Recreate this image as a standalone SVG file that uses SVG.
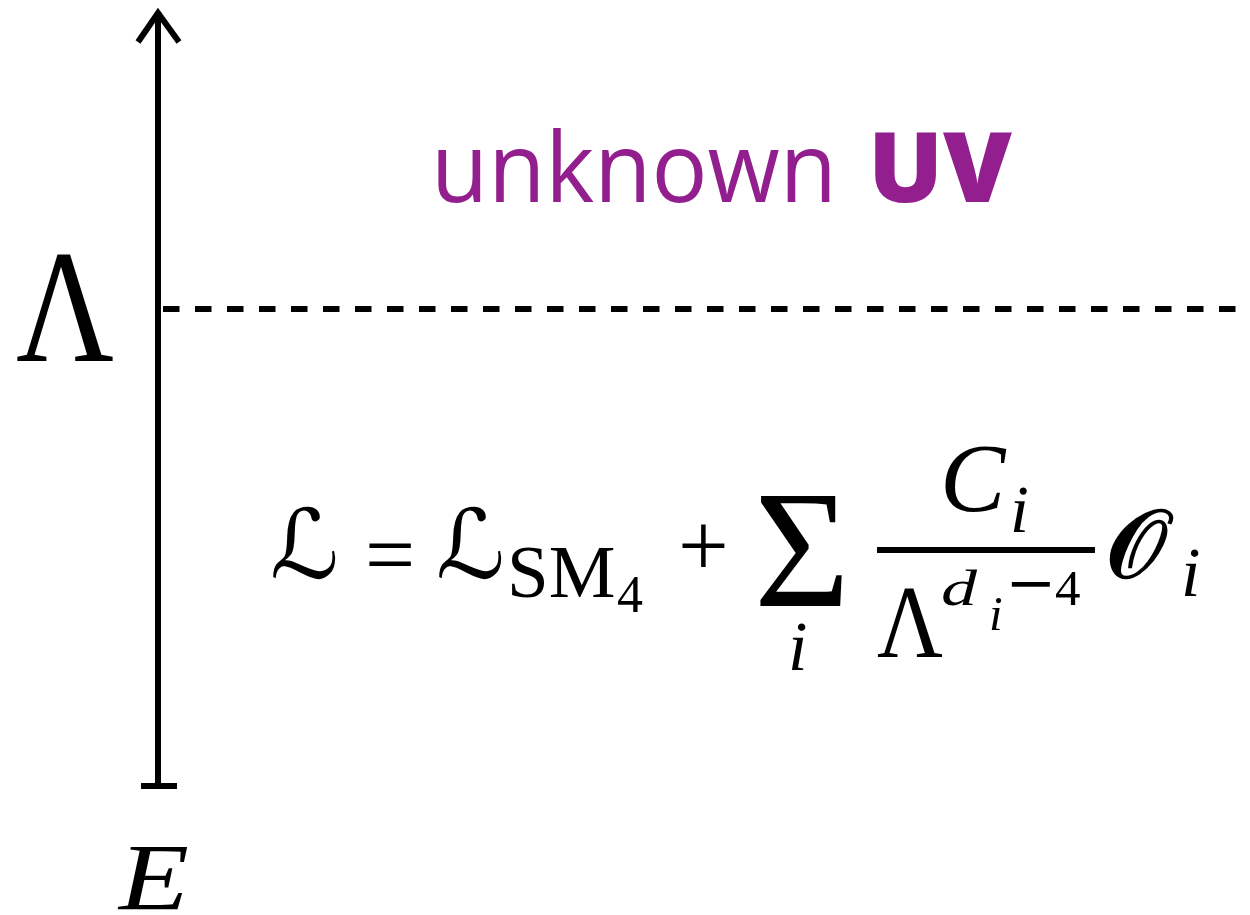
<svg xmlns="http://www.w3.org/2000/svg" width="1250" height="915" viewBox="0 0 1250 915">
<style>
.ax{stroke:#000;stroke-width:6;fill:none}
.m{font-family:"Liberation Serif","DejaVu Serif",serif;fill:#000}
.mi{font-family:"Liberation Serif","DejaVu Serif",serif;font-style:italic;fill:#000}
.sc{font-family:"DejaVu Serif","DejaVu Sans",serif;fill:#000}
.so{font-family:"DejaVu Sans","DejaVu Serif",sans-serif;fill:#000;stroke:#000;stroke-width:2.5}
.uv{font-family:"Open Sans","Noto Sans",sans-serif;fill:#931f8f}
</style>
<rect width="1250" height="915" fill="#fff"/>
<g id="connectors">
<line class="ax" x1="158" y1="786" x2="158" y2="14"/>
<polyline class="ax" points="138,42 158,13 179,42"/>
<line class="ax" x1="141" y1="786" x2="177" y2="786" stroke-width="7"/>
<line class="ax" x1="163" y1="309" x2="1237" y2="309" stroke-width="8" stroke-dasharray="16.5 15.5"/>
</g>
<g id="axis-labels">
<text class="m" x="16" y="361" font-size="160" textLength="98" lengthAdjust="spacingAndGlyphs">Λ</text>
<text class="mi" x="119" y="910" font-size="96" textLength="70" lengthAdjust="spacingAndGlyphs">E</text>
</g>
<g id="uv-label">
<text class="uv" x="431" y="202" font-size="97" textLength="406" lengthAdjust="spacingAndGlyphs">unknown</text>
<text class="uv" x="868" y="202" font-size="97" font-weight="800" textLength="144" lengthAdjust="spacingAndGlyphs">UV</text>
</g>
<g id="formula">
<text class="sc" x="270" y="578" font-size="96" font-style="italic">ℒ</text>
<text class="m" x="365" y="584" font-size="89">=</text>
<text class="sc" x="436" y="578" font-size="96" font-style="italic">ℒ</text>
<text class="m" x="507" y="597" font-size="75">SM</text>
<text class="m" x="617" y="612" font-size="52">4</text>
<text class="m" x="678" y="576" font-size="90">+</text>
<text class="m" x="754" y="606" font-size="168" textLength="96" lengthAdjust="spacingAndGlyphs">Σ</text>
<text class="mi" x="788" y="670" font-size="70">i</text>
<line x1="877" y1="550" x2="1095" y2="550" stroke="#000" stroke-width="6"/>
<text class="mi" x="940" y="511" font-size="98">C</text>
<text class="mi" x="1010" y="532" font-size="68">i</text>
<text class="m" x="877" y="657" font-size="104" textLength="66" lengthAdjust="spacingAndGlyphs">Λ</text>
<text class="mi" x="941" y="605" font-size="50" textLength="36" lengthAdjust="spacingAndGlyphs">d</text>
<text class="mi" x="989" y="630" font-size="49">i</text>
<text class="m" x="1008" y="615" font-size="92" textLength="46" lengthAdjust="spacingAndGlyphs">−</text>
<text class="m" x="1055" y="605" font-size="51">4</text>
<text class="so" x="1106" y="577" font-size="96">𝒪</text>
<text class="mi" x="1181" y="596" font-size="70">i</text>
</g>
</svg>
